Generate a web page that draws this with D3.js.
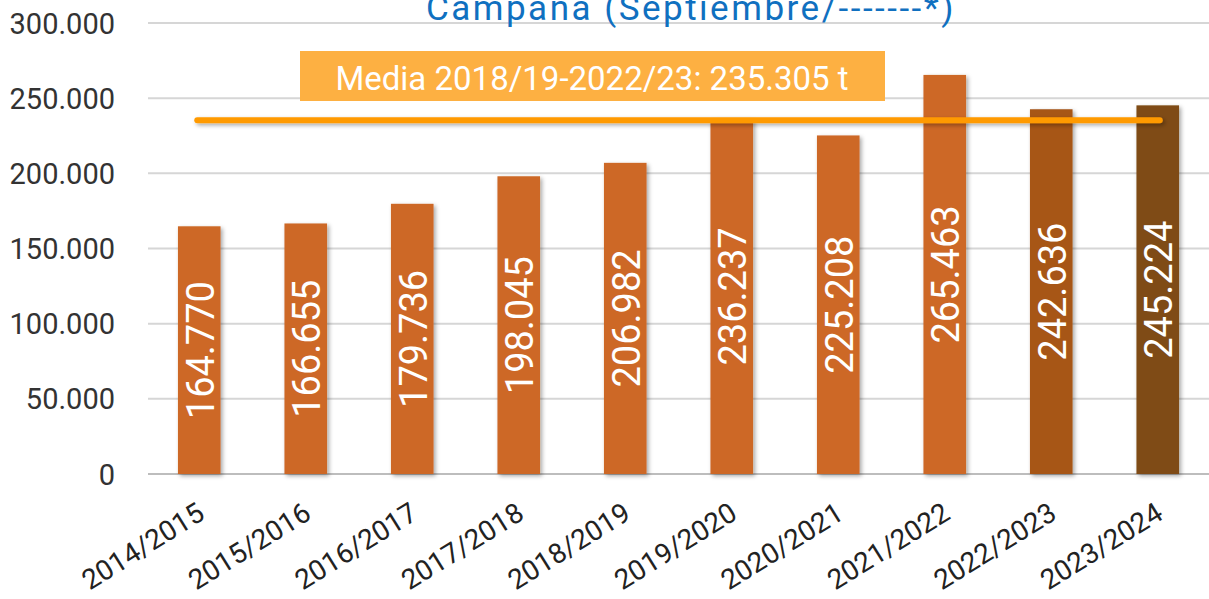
<!DOCTYPE html>
<html><head><meta charset="utf-8">
<script src="https://cdn.jsdelivr.net/npm/d3@7"></script>
<style>html,body{margin:0;padding:0;background:#fff;overflow:hidden}</style>
</head><body>
<svg id="c" width="1209" height="599"></svg>
<script>
const categories = ["2014/2015","2015/2016","2016/2017","2017/2018","2018/2019","2019/2020","2020/2021","2021/2022","2022/2023","2023/2024"];
const values = [164770,166655,179736,198045,206982,236237,225208,265463,242636,245224];
const barColors = ["#CD6826","#CD6826","#CD6826","#CD6826","#CD6826","#CD6826","#CD6826","#CD6826","#A75617","#7F4C12"];
const yTicks = [0,50000,100000,150000,200000,250000,300000];
const mediaValue = 235305;
const mediaLabel = "Media 2018/19-2022/23: 235.305 t";
const titleText = "Campana (Septiembre/-------*)";

const svg = d3.select("#c");
const fmt = v => d3.format(",")(v).replace(/,/g,".");
const x = d3.scaleBand().domain(categories).range([146,1211]).paddingInner(0.6).paddingOuter(0.3);
const y = d3.scaleLinear().domain([0,300000]).range([474,23]);

const defs = svg.append("defs");
const f = defs.append("filter").attr("id","sh").attr("filterUnits","userSpaceOnUse")
  .attr("x",0).attr("y",0).attr("width",1209).attr("height",599);
f.append("feDropShadow").attr("dx",2).attr("dy",2).attr("stdDeviation",2).attr("flood-color","#000").attr("flood-opacity",0.35);

// gridlines
svg.append("g").selectAll("line").data(yTicks).join("line")
  .attr("x1",148).attr("x2",1209).attr("y1",d=>y(d)).attr("y2",d=>y(d))
  .attr("stroke",d=>d===0?"#bdbdbd":"#d6d6d6").attr("stroke-width",2);

// y axis labels
const yAxis = d3.axisLeft(y).tickValues(yTicks).tickFormat(fmt).tickSize(0).tickPadding(0);
const ga = svg.append("g").attr("transform","translate(115,0)").call(yAxis);
ga.select(".domain").remove();
ga.selectAll("text").attr("font-family","Roboto, sans-serif").attr("font-size",29).attr("fill","#333").attr("dy","0.35em");

// title
svg.append("text").attr("x",691).attr("y",20).attr("text-anchor","middle")
  .attr("font-family","Roboto, sans-serif").attr("font-size",35).attr("fill","#1070C0").attr("letter-spacing",2.5).text(titleText);

// bars
svg.append("g").selectAll("rect").data(values).join("rect")
  .attr("x",(d,i)=>x(categories[i])).attr("width",x.bandwidth())
  .attr("y",d=>y(d)).attr("height",d=>y(0)-y(d))
  .attr("fill",(d,i)=>barColors[i]).attr("filter","url(#sh)");

// value labels
svg.append("g").selectAll("text").data(values).join("text")
  .attr("transform",(d,i)=>`translate(${x(categories[i])+x.bandwidth()/2+1},${(y(d)+y(0))/2}) rotate(-90)`)
  .attr("text-anchor","middle").attr("dy","0.36em")
  .attr("font-family","Roboto, sans-serif").attr("font-size",38).attr("fill","#fff")
  .text(d=>fmt(d));

// x labels
svg.append("g").selectAll("text").data(categories).join("text")
  .attr("transform",d=>`translate(${x(d)+x.bandwidth()/2+7},${518}) rotate(-32)`)
  .attr("text-anchor","end")
  .attr("font-family","Roboto, sans-serif").attr("font-size",28).attr("fill","#222")
  .text(d=>d);

// media line
svg.append("line").attr("x1",x(categories[0])+x.bandwidth()/2-2).attr("x2",x(categories[9])+x.bandwidth()/2+2)
  .attr("y1",y(mediaValue)).attr("y2",y(mediaValue))
  .attr("stroke","#FF9A00").attr("stroke-width",6).attr("stroke-linecap","round").attr("filter","url(#sh)");

// legend box
svg.append("rect").attr("x",300).attr("y",51).attr("width",585).attr("height",50).attr("fill","#FDB042");
svg.append("text").attr("x",592).attr("y",90).attr("text-anchor","middle")
  .attr("font-family","Roboto, sans-serif").attr("font-size",33).attr("fill","#fff").text(mediaLabel);
</script>
</body></html>
